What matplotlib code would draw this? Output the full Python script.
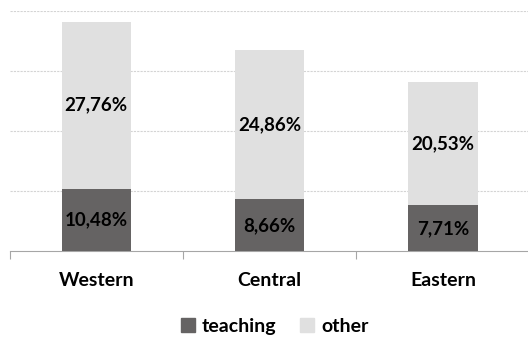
import matplotlib
matplotlib.use("Agg")
import matplotlib.pyplot as plt
from matplotlib.patches import Patch

# data
regions = ["Western", "Central", "Eastern"]
teaching = [10.48, 8.66, 7.71]
other = [27.76, 24.86, 20.53]

c_teach = "#656363"
c_other = "#e0e0e0"

plt.rcParams["font.family"] = ["Lato", "DejaVu Sans"]

fig = plt.figure(figsize=(5.28, 3.38), dpi=100)
ax = fig.add_axes([0.018, 0.256, 0.985, 0.7107])

x = range(len(regions))
ax.bar(x, teaching, width=0.4, color=c_teach, zorder=3)
ax.bar(x, other, width=0.4, bottom=teaching, color=c_other, zorder=3)

for i in x:
    ax.text(i, teaching[i] / 2, f"{teaching[i]:.2f}%".replace(".", ","),
            ha="center", va="center", fontsize=13.5, fontweight="bold", color="black", zorder=4)
    ax.text(i, teaching[i] + other[i] / 2, f"{other[i]:.2f}%".replace(".", ","),
            ha="center", va="center", fontsize=13.5, fontweight="bold", color="black", zorder=4)

ax.set_xlim(-0.5, 2.5)
ax.set_ylim(0, 40)
ax.set_yticks([10, 20, 30, 40])
ax.yaxis.grid(True, color="#d4d4d4", linestyle=(0, (2, 1)), linewidth=0.8, zorder=0)
ax.tick_params(axis="y", left=False, labelleft=False)

ax.set_xticks([-0.5, 0.5, 1.5, 2.5], minor=False)
ax.set_xticklabels([])
ax.set_xticks(list(x), minor=True)
ax.set_xticklabels(regions, minor=True, fontsize=14, fontweight="bold")
ax.tick_params(axis="x", which="major", length=6, color="#a6a6a6", direction="out")
ax.tick_params(axis="x", which="minor", length=0, pad=15)

for s in ["top", "right", "left"]:
    ax.spines[s].set_visible(False)
ax.spines["bottom"].set_color("#a6a6a6")

handles = [Patch(color=c_teach, label="teaching"), Patch(color=c_other, label="other")]
fig.legend(handles=handles, loc="center", bbox_to_anchor=(0.52, 0.035), ncol=2, frameon=False,
           prop={"weight": "bold", "size": 14}, handlelength=0.75, handleheight=0.75,
           handletextpad=0.35, columnspacing=1.2, borderpad=0)

fig.savefig("out.png", dpi=100)
